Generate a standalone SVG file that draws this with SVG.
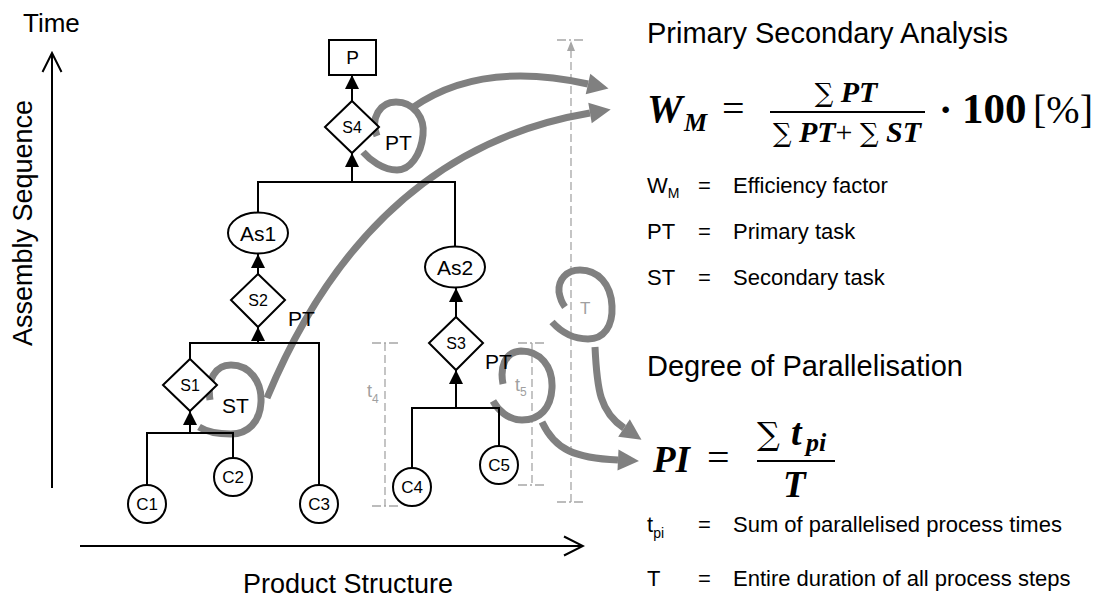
<svg xmlns="http://www.w3.org/2000/svg" width="1097" height="597" viewBox="0 0 1097 597">
<style>
.sans{font-family:"Liberation Sans",Arial,sans-serif;fill:#000}
.node{fill:#fff;stroke:#000;stroke-width:2}
.lbl{font-family:"Liberation Sans",Arial,sans-serif;text-anchor:middle;fill:#000}
.wire{fill:none;stroke:#000;stroke-width:2}
.loop{fill:none;stroke:#808080;stroke-width:7}
.dash{fill:none;stroke:#a6a6a6;stroke-width:1.3;stroke-dasharray:8,4}
.cap{fill:none;stroke:#a6a6a6;stroke-width:1.3;stroke-dasharray:9,3,2,3}
.gtxt{font-family:"Liberation Sans",Arial,sans-serif;fill:#a0a0a0}
.math{font-family:"Liberation Serif","Times New Roman",serif;fill:#000}
.bi{font-weight:bold;font-style:italic}
.sig{font-family:"DejaVu Serif",serif}
</style>
<defs>
<marker id="ah" markerUnits="userSpaceOnUse" markerWidth="16" markerHeight="16" viewBox="0 -8 15 16" refX="14" refY="0" orient="auto"><path d="M0,-7 L14,0 L0,7 z" fill="#000"/></marker>
<marker id="gh" markerUnits="userSpaceOnUse" markerWidth="24" markerHeight="24" viewBox="0 -12 23 24" refX="0" refY="0" orient="auto"><path d="M0,-10.5 L21,0 L0,10.5 z" fill="#808080"/></marker>
<marker id="oh" markerUnits="userSpaceOnUse" markerWidth="24" markerHeight="24" viewBox="-22 -12 24 24" refX="0" refY="0" orient="auto"><path d="M-19,-9.5 L0,0 L-19,9.5" fill="none" stroke="#000" stroke-width="2"/></marker>
</defs>

<!-- axes -->
<g id="axes">
<line x1="52" y1="488" x2="52" y2="53" class="wire" marker-end="url(#oh)"/>
<line x1="80" y1="546" x2="583" y2="546" class="wire" marker-end="url(#oh)"/>
<text x="23" y="32" class="sans" font-size="26">Time</text>
<text transform="translate(32,223) rotate(-90)" class="sans" font-size="27" text-anchor="middle">Assembly Sequence</text>
<text x="243" y="593" class="sans" font-size="27">Product Structure</text>
</g>

<!-- time brackets -->
<g id="brackets">
<line x1="385" y1="343" x2="385" y2="506" class="dash"/>
<line x1="372" y1="343" x2="400" y2="343" class="cap"/>
<line x1="372" y1="506" x2="400" y2="506" class="cap"/>
<text x="367" y="397" class="gtxt" font-size="18">t<tspan font-size="12" dy="6">4</tspan></text>
<line x1="532" y1="343" x2="532" y2="485" class="dash"/>
<line x1="518" y1="343" x2="545" y2="343" class="cap"/>
<line x1="518" y1="485" x2="545" y2="485" class="cap"/>
<text x="515" y="391" class="gtxt" font-size="18">t<tspan font-size="12" dy="5">5</tspan></text>
<line x1="571" y1="50" x2="571" y2="502" class="dash"/>
<line x1="557" y1="40" x2="585" y2="40" class="cap"/>
<line x1="557" y1="502" x2="585" y2="502" class="cap"/>
<path d="M571,41 L575,51 L567,51 z" fill="#a6a6a6"/>
<text x="580" y="314" class="gtxt" font-size="17">T</text>
</g>

<!-- gray loops and arrows -->
<g id="flows">
<path class="loop" d="M377,136 C370,118 380,102 396,102 C414,102 425,118 423,135 C421,155 410,170 397,170 C383,170 370,160 363,152"/>
<path class="loop" d="M412,108 Q480,60 588,84" marker-end="url(#gh)"/>
<path class="loop" d="M210,400 C207,380 215,365 231,365 C250,365 262,382 261,402 C260,422 248,434 231,434 C218,434 207,432 199,427"/>
<path class="loop" d="M267,398 Q370,150 590,113" marker-end="url(#gh)"/>
<path class="loop" d="M552,322 C562,333 574,339 588,339 C604,339 613,326 612,306 C611,284 598,270 580,270 C566,270 558,280 559,292 C560,298 562,303 565,307"/>
<path class="loop" d="M595,347 C597,390 600,412 624,428" marker-end="url(#gh)"/>
<path class="loop" d="M503,384 C500,368 504,352 521,351 C540,351 553,366 552,388 C551,408 540,420 522,420 C508,420 498,410 493,401"/>
<path class="loop" d="M542,422 C555,450 575,458 618,460" marker-end="url(#gh)"/>
</g>

<!-- tree connectors -->
<g id="connectors">
<polyline class="wire" points="147,485 147,433 233,433 233,458"/>
<line class="wire" x1="190" y1="433" x2="190" y2="411" marker-end="url(#ah)"/>
<polyline class="wire" points="190,359 190,343 319,343 319,485"/>
<line class="wire" x1="258" y1="343" x2="258" y2="327" marker-end="url(#ah)"/>
<line class="wire" x1="258" y1="274" x2="258" y2="254" marker-end="url(#ah)"/>
<polyline class="wire" points="258,212 258,182 455,182 455,246"/>
<line class="wire" x1="352" y1="182" x2="352" y2="153" marker-end="url(#ah)"/>
<line class="wire" x1="352" y1="101" x2="352" y2="75" marker-end="url(#ah)"/>
<polyline class="wire" points="412,468 412,408 499,408 499,446"/>
<line class="wire" x1="456" y1="408" x2="456" y2="370" marker-end="url(#ah)"/>
<line class="wire" x1="456" y1="317" x2="456" y2="288" marker-end="url(#ah)"/>
</g>

<!-- nodes -->
<g id="P"><rect class="node" x="329" y="40" width="47" height="35"/><text class="lbl" x="352.5" y="64" font-size="19">P</text></g>
<g id="S4"><polygon class="node" points="352,101 379,127 352,153 325,127"/><text class="lbl" x="352" y="133" font-size="16">S4</text></g>
<g id="As1"><ellipse class="node" cx="258" cy="233" rx="30" ry="20.5"/><text class="lbl" x="258" y="241" font-size="21">As1</text></g>
<g id="S2"><polygon class="node" points="258,274 285,300 258,327 231,300"/><text class="lbl" x="258" y="306" font-size="16">S2</text></g>
<g id="S1"><polygon class="node" points="190,359 217,385 190,411 163,385"/><text class="lbl" x="190" y="391" font-size="16">S1</text></g>
<g id="As2"><ellipse class="node" cx="455" cy="267" rx="30" ry="20.5"/><text class="lbl" x="455" y="275" font-size="21">As2</text></g>
<g id="S3"><polygon class="node" points="456,317 483,343 456,370 429,343"/><text class="lbl" x="456" y="349" font-size="16">S3</text></g>
<g id="C1"><circle class="node" cx="147" cy="504" r="19"/><text class="lbl" x="147" y="510" font-size="17">C1</text></g>
<g id="C2"><circle class="node" cx="233" cy="477" r="19"/><text class="lbl" x="233" y="483" font-size="17">C2</text></g>
<g id="C3"><circle class="node" cx="319" cy="504" r="19"/><text class="lbl" x="319" y="510" font-size="17">C3</text></g>
<g id="C4"><circle class="node" cx="412" cy="487" r="19"/><text class="lbl" x="412" y="493" font-size="17">C4</text></g>
<g id="C5"><circle class="node" cx="499" cy="465" r="19"/><text class="lbl" x="499" y="471" font-size="17">C5</text></g>

<!-- task labels -->
<g id="tasklabels">
<text x="385" y="150" class="sans" font-size="21">PT</text>
<text x="288" y="326" class="sans" font-size="21">PT</text>
<text x="222" y="413" class="sans" font-size="21">ST</text>
<text x="485" y="369" class="sans" font-size="21">PT</text>
</g>

<!-- right column -->
<g id="analysis">
<text x="647" y="43" class="sans" font-size="29">Primary Secondary Analysis</text>
<text x="647" y="122" class="math bi" font-size="40">W</text>
<text x="684" y="131" class="math bi" font-size="26">M</text>
<text x="722" y="122" class="math" font-size="40">=</text>
<line x1="770" y1="112" x2="925" y2="112" stroke="#000" stroke-width="2"/>
<text x="846" y="102" class="math" font-size="30" text-anchor="middle"><tspan class="sig" font-size="26">∑</tspan> <tspan class="bi">PT</tspan></text>
<text x="847" y="142" class="math" font-size="30" text-anchor="middle"><tspan class="sig" font-size="26">∑</tspan> <tspan class="bi">PT</tspan>+ <tspan class="sig" font-size="26">∑</tspan> <tspan class="bi">ST</tspan></text>
<text x="939" y="123" class="math" font-size="40" font-weight="bold">·</text>
<text x="962" y="123" class="math" font-size="43" font-weight="bold">100</text>
<text x="1033" y="123" class="math" font-size="40">[%]</text>
<text x="647" y="193" class="sans" font-size="22">W<tspan font-size="14" dy="5">M</tspan></text>
<text x="698" y="193" class="sans" font-size="22">=</text>
<text x="733" y="193" class="sans" font-size="22">Efficiency factor</text>
<text x="647" y="239" class="sans" font-size="22">PT</text>
<text x="698" y="239" class="sans" font-size="22">=</text>
<text x="733" y="239" class="sans" font-size="22">Primary task</text>
<text x="647" y="285" class="sans" font-size="22">ST</text>
<text x="698" y="285" class="sans" font-size="22">=</text>
<text x="733" y="285" class="sans" font-size="22">Secondary task</text>
</g>

<g id="parallel">
<text x="647" y="376" class="sans" font-size="29">Degree of Parallelisation</text>
<text x="653" y="472" class="math bi" font-size="37">PI</text>
<text x="707" y="471" class="math" font-size="40">=</text>
<line x1="757" y1="461" x2="835" y2="461" stroke="#000" stroke-width="2"/>
<text x="757" y="445" class="sig" font-size="32">∑</text>
<text x="791" y="445" class="math bi" font-size="38">t</text>
<text x="806" y="451" class="math bi" font-size="26">pi</text>
<text x="783" y="497" class="math bi" font-size="37">T</text>
<text x="647" y="532" class="sans" font-size="22">t<tspan font-size="14" dy="6">pi</tspan></text>
<text x="698" y="532" class="sans" font-size="22">=</text>
<text x="733" y="532" class="sans" font-size="22">Sum of parallelised process times</text>
<text x="647" y="586" class="sans" font-size="22">T</text>
<text x="698" y="586" class="sans" font-size="22">=</text>
<text x="733" y="586" class="sans" font-size="22">Entire duration of all process steps</text>
</g>
</svg>
